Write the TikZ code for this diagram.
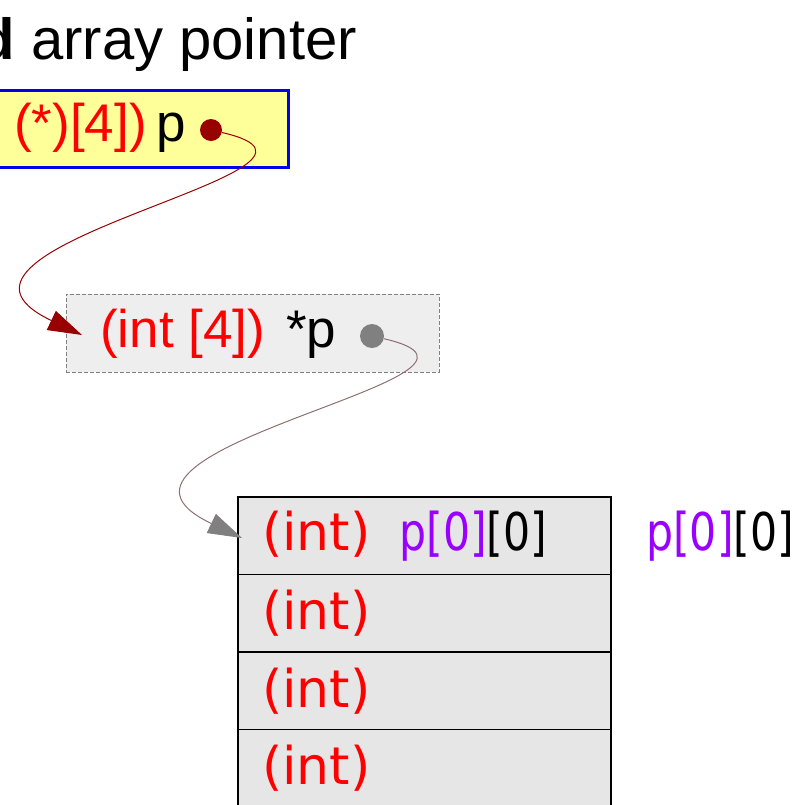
\documentclass[tikz,border=0pt]{standalone}
\usepackage{fontspec}
\setmainfont{Liberation Sans}
\newfontfamily\dejavu{DejaVu Sans}
\usetikzlibrary{arrows.meta,calc,positioning}
\definecolor{ptrred}{RGB}{255,0,0}
\definecolor{dotred}{RGB}{153,0,0}
\definecolor{idxviolet}{RGB}{153,0,255}
\definecolor{boxyellow}{RGB}{255,255,153}
\definecolor{boxblue}{RGB}{0,0,238}
\definecolor{cellgray}{RGB}{230,230,230}
\definecolor{boxgray}{RGB}{238,238,238}
\definecolor{linkgray}{RGB}{140,112,112}
\definecolor{dotgray}{RGB}{128,128,128}
\newcommand{\elemname}{\scalebox{0.82}[1]{\textcolor{idxviolet}{p[0]}\textcolor{black}{[0]}}}

\begin{document}
\begin{tikzpicture}[x=1pt, y=-1pt,
	bigtext/.style={font=\fontsize{53}{60}\selectfont, inner sep=0pt},
	cell/.style={draw=black, line width=1.5pt, fill=cellgray, outer sep=0pt,
		minimum height=77.5pt, text width=325pt, inner xsep=24pt, inner ysep=0pt,
		align=left, font=\dejavu\fontsize{52}{60}\selectfont, text=ptrred},
	dot/.style={circle, inner sep=0pt, minimum size=#1},
	link/.style={line width=1pt}]
	\useasboundingbox (0,0) rectangle (812,804);
	\clip (0,0) rectangle (812,804);
	% title
	\node[font=\fontsize{58}{66}\selectfont, inner sep=0pt, anchor=base east] (title) at (357,59) {array pointer};
	\node[font=\fontsize{58}{66}\selectfont\bfseries, inner sep=0pt, anchor=base east] (titlebold) at ($(title.base west)+(-16,0)$) {d};
	% pointer p
	\node[draw=boxblue, line width=3pt, fill=boxyellow, minimum width=308pt, minimum height=77.5pt] (ptrbox) at (134,128.75) {};
	\node[bigtext, anchor=base west] (ptrtext) at (14,141) {\textcolor{ptrred}{(*)[4])}\hspace{10pt}p};
	\node[dot=22pt, fill=dotred] (ptrdot) at (211,130) {};
	% *p
	\node[draw=dotgray, dash pattern=on 4pt off 2pt, line width=0.8pt, fill=boxgray, minimum width=373pt, minimum height=78pt] (rowbox) at (252.5,333) {};
	\node[bigtext, anchor=base west] (rowtext) at (100,347) {\textcolor{ptrred}{(int [4])}\hspace{21pt}*p};
	\node[dot=24pt, fill=dotgray] (rowdot) at (372,336) {};
	% p[0][0] ...
	\node[cell] (cell0) at (424.5,535.75) {(int)\hspace{29pt}\elemname};
	\node[cell, below=0pt of cell0] (cell1) {(int)};
	\node[cell, below=0pt of cell1] (cell2) {(int)};
	\node[cell, below=0pt of cell2] (cell3) {(int)};
	\node[font=\dejavu\fontsize{52}{60}\selectfont, inner sep=0pt, anchor=base west] (elem) at (646,550) {\elemname};
	% links
	\coordinate (rowtip) at (82,335);
	\coordinate (celltip) at (242,538);
	\draw[link, dotred, -{Triangle[length=34pt, width=21pt]}] (ptrdot) .. controls ($(ptrdot)+(175,40)$) and ($(rowtip)+(-190,-90)$) .. (rowtip);
	\draw[link, linkgray, -{Triangle[length=34pt, width=21pt, color=dotgray]}] (rowdot) .. controls ($(rowdot)+(175,40)$) and ($(celltip)+(-190,-90)$) .. (celltip);
\end{tikzpicture}
\end{document}
